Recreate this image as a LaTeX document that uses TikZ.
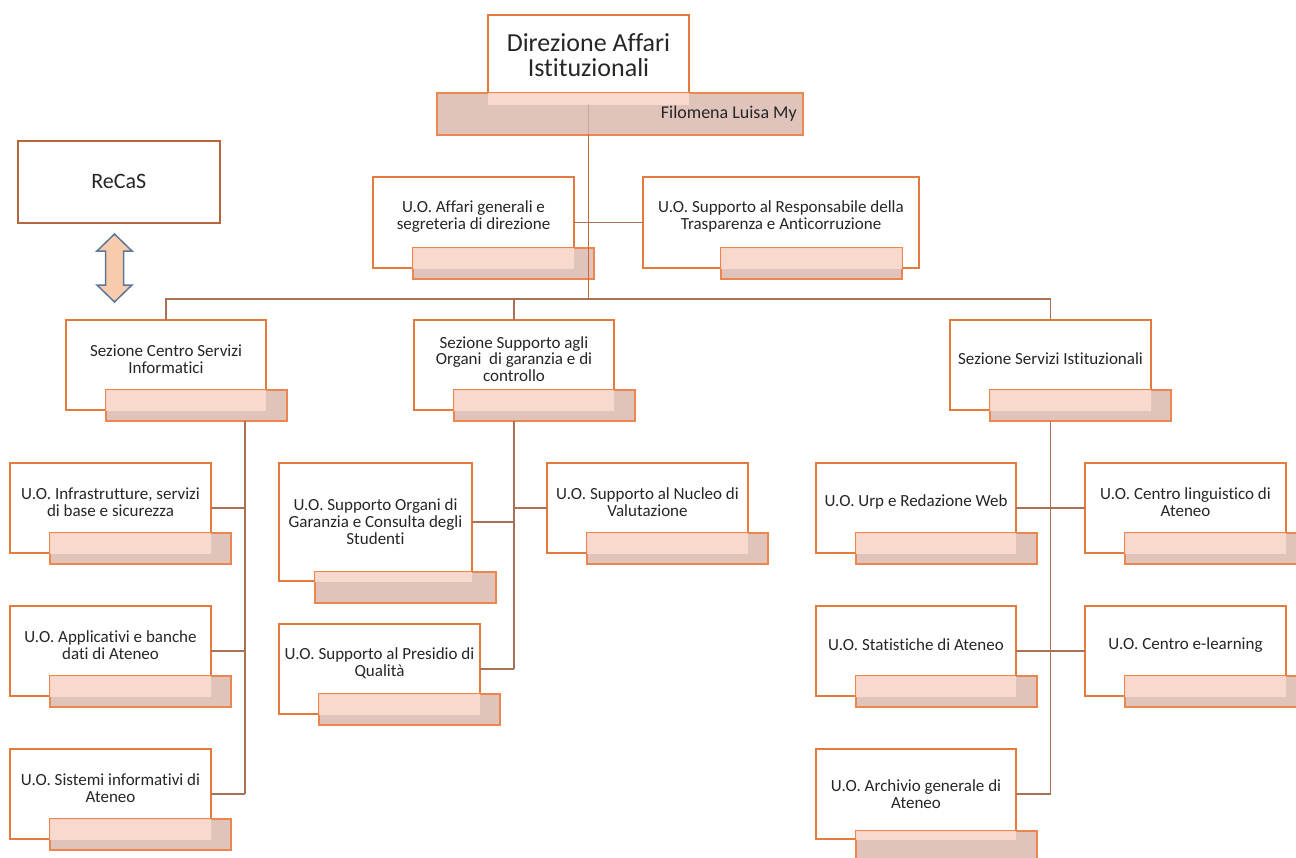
\documentclass[tikz,border=0pt]{standalone}
\usepackage{fontspec}
\setmainfont[Ligatures=NoCommon]{Carlito}
\usepackage{tikz}
\usetikzlibrary{calc}
\definecolor{boxorange}{RGB}{228,122,62}
\definecolor{barorange}{RGB}{236,134,78}
\definecolor{bardark}{RGB}{224,196,187}
\definecolor{barlight}{RGB}{250,220,208}
\definecolor{linkbrown}{RGB}{168,112,84}
\definecolor{trunkorange}{RGB}{196,106,56}
\definecolor{recasbrown}{RGB}{181,101,58}
\definecolor{arrowblue}{RGB}{92,120,150}
\definecolor{arrowfill}{RGB}{248,203,173}
\definecolor{textgray}{RGB}{38,38,38}
\tikzset{
  unitbox/.style={draw=boxorange, fill=white, line width=1.5pt, anchor=north west, inner sep=0pt, outer sep=0pt},
  namebar/.style={draw=barorange, fill=bardark, line width=1.5pt, anchor=north west, inner sep=0pt, outer sep=0pt, minimum width=181, minimum height=31},
  unittext/.style={font=\fontsize{17}{16.8}\selectfont, align=center, text=textgray, inner sep=0pt},
  link/.style={draw=linkbrown, line width=1.8pt},
}
\newcommand{\orgunit}[8]{%
  \node[unitbox, minimum width=#4, minimum height=#5] (#1) at (#2,#3) {};
  \node[namebar] (#1-bar) at (#2+#6,#7) {};
  \begin{scope}
    \clip (#1.north west) rectangle (#1.south east);
    \fill[barlight, fill opacity=.9] (#1-bar.north west) rectangle (#1-bar.south east);
  \end{scope}
  \node[unittext] (#1-text) at ($(#1.north)!.5!(#1.north |- #1-bar.north)+(0,4)$) {#8};
}

\begin{document}
\begin{tikzpicture}[x=1pt, y=-1pt]
\useasboundingbox[fill=white] (0,0) rectangle (1296,857);

\node[unitbox, minimum width=201, minimum height=89] (dir) at (488,15) {};
\node[namebar, minimum width=366, minimum height=42] (dir-bar) at (437,93) {};
\begin{scope}
  \clip (dir.north west) rectangle (dir.south east);
  \fill[barlight, fill opacity=.9] (dir-bar.north west) rectangle (dir-bar.south east);
\end{scope}
\node[unittext, font=\fontsize{26}{25}\selectfont] (dir-text) at (588.5,55) {Direzione Affari\\Istituzionali};
\node[unittext, font=\fontsize{18}{20}\selectfont, anchor=east] (dir-name) at (797,114) {Filomena Luisa My};

\node[draw=recasbrown, fill=white, line width=1.5pt, anchor=north west, minimum width=202, minimum height=82, inner sep=0pt,
  font=\fontsize{22}{24}\selectfont, text=textgray] (recas) at (17,140) {ReCaS};
\draw[draw=arrowblue, fill=arrowfill, line width=1.5pt, line join=miter] (114.5,234) -- (132,251) -- (123.5,251) -- (123.5,285)
  -- (132,285) -- (114.5,302) -- (97,285) -- (105.5,285) -- (105.5,251) -- (97,251) -- cycle;

\orgunit{affari}{373}{177}{201}{91}{40}{248}{U.O. Affari generali e\\segreteria di direzione}
\orgunit{trasp}{643}{177}{276}{91}{78}{248}{U.O. Supporto al Responsabile della\\Trasparenza e Anticorruzione}

\orgunit{csi}{66}{320}{200}{90}{40}{390}{Sezione Centro Servizi\\Informatici}
\orgunit{sog}{414}{320}{200}{90}{40}{390}{Sezione Supporto agli\\Organi \ di garanzia e di\\controllo}
\orgunit{ssi}{950}{320}{201}{90}{40}{390}{Sezione Servizi Istituzionali}

\orgunit{infra}{10}{463}{201}{90}{40}{533}{U.O. Infrastrutture, servizi\\di base e sicurezza}
\orgunit{appl}{10}{606}{201}{90}{40}{676}{U.O. Applicativi e banche\\dati di Ateneo}
\orgunit{sist}{10}{749}{201}{90}{40}{819}{U.O. Sistemi informativi di\\Ateneo}

\orgunit{organi}{279}{463}{193}{118}{36}{572}{U.O. Supporto Organi di\\Garanzia e Consulta degli\\Studenti}
\orgunit{nucleo}{547}{463}{201}{90}{40}{533}{U.O. Supporto al Nucleo di\\Valutazione}
\orgunit{presidio}{279}{624}{201}{90}{40}{694}{U.O. Supporto al Presidio di\\Qualità}

\orgunit{urp}{816}{463}{200}{90}{40}{533}{U.O. Urp e Redazione Web}
\orgunit{ling}{1085}{463}{201}{90}{40}{533}{U.O. Centro linguistico di\\Ateneo}
\orgunit{stat}{816}{606}{200}{90}{40}{676}{U.O. Statistiche di Ateneo}
\orgunit{elearn}{1085}{606}{201}{90}{40}{676}{U.O. Centro e-learning}
\orgunit{arch}{816}{749}{200}{90}{40}{831}{U.O. Archivio generale di\\Ateneo}

\coordinate (bus) at (588.5,299);
\coordinate (csi-trunk) at (245,421);
\coordinate (sog-trunk) at (sog.south |- sog-bar.south);
\coordinate (ssi-trunk) at (ssi.south |- ssi-bar.south);

\draw[link, draw opacity=.35] (dir.south) -- (dir.south |- dir-bar.south);
\draw[link, draw=trunkorange] (dir.south |- dir-bar.south) -- (bus);
\draw[link] (affari.east) -- (trasp.west);
\draw[link] (csi.north) |- (bus) -| (ssi.north);
\draw[link] (bus -| sog.north) -- (sog.north);

\draw[link] (csi-trunk) -- (csi-trunk |- sist.east);
\draw[link] (infra.east) -- (infra.east -| csi-trunk);
\draw[link] (appl.east) -- (appl.east -| csi-trunk);
\draw[link] (sist.east) -- (sist.east -| csi-trunk);

\draw[link] (sog-trunk) -- (sog-trunk |- presidio.east);
\draw[link] (organi.east) -- (organi.east -| sog-trunk);
\draw[link] (nucleo.west) -- (nucleo.west -| sog-trunk);
\draw[link] (presidio.east) -- (presidio.east -| sog-trunk);

\draw[link] (ssi-trunk) -- (ssi-trunk |- arch.east);
\draw[link] (urp.east) -- (ling.west);
\draw[link] (stat.east) -- (elearn.west);
\draw[link] (arch.east) -- (arch.east -| ssi-trunk);
\end{tikzpicture}
\end{document}
